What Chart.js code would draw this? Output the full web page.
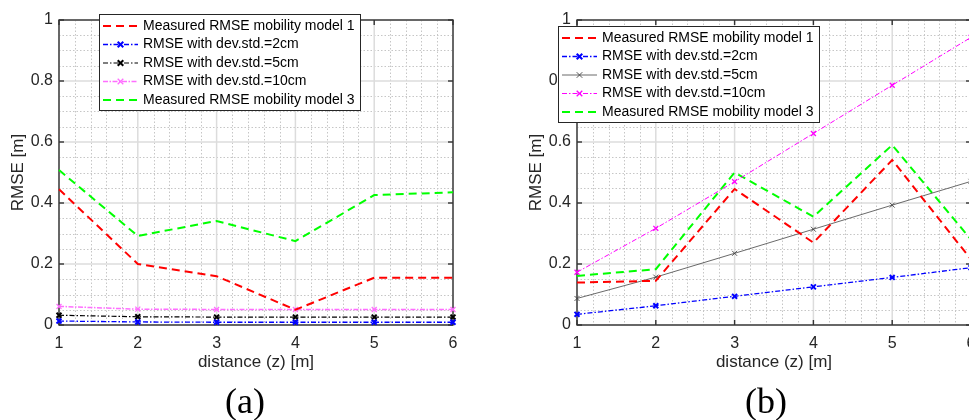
<!DOCTYPE html>
<html>
<head>
<meta charset="utf-8">
<script src="https://cdn.jsdelivr.net/npm/chart.js@4"></script>
<style>
  html, body { margin: 0; padding: 0; background: #fff; }
  #wrap { position: relative; width: 969px; height: 420px; overflow: hidden; }
  canvas { position: absolute; top: 0; }
  #cA { left: 0; }
  #cB { left: 518px; }
  .cap { position: absolute; top: 380px; font: 36px "Liberation Serif", "DejaVu Serif", serif; color: #000; transform: translateX(-50%); }
</style>
</head>
<body>
<div id="wrap">
  <canvas id="cA" width="480" height="420"></canvas>
  <canvas id="cB" width="480" height="420"></canvas>
  <div class="cap" style="left:245px">(a)</div>
  <div class="cap" style="left:766px">(b)</div>
</div>
<script>
// distanza in metri
const distance = [1, 2, 3, 4, 5, 6];

const labels = [
  'Measured RMSE mobility model 1',
  'RMSE with dev.std.=2cm',
  'RMSE with dev.std.=5cm',
  'RMSE with dev.std.=10cm',
  'Measured RMSE mobility model 3'
];

// grafico (a)
const measured1A = [0.445, 0.2, 0.16, 0.05, 0.155, 0.155];
const std2A = [0.013, 0.01, 0.009, 0.009, 0.009, 0.009];
const std5A = [0.032, 0.027, 0.026, 0.026, 0.026, 0.026];
const std10A = [0.061, 0.052, 0.051, 0.051, 0.051, 0.051];
const measured3A = [0.508, 0.292, 0.341, 0.275, 0.426, 0.435];

// grafico (b)
const measured1B = [0.139, 0.145, 0.446, 0.27, 0.541, 0.215];
const std2B = [0.035, 0.063, 0.094, 0.125, 0.156, 0.188];
const std5B = [0.087, 0.157, 0.235, 0.314, 0.393, 0.471];
const std10B = [0.173, 0.317, 0.47, 0.628, 0.786, 0.943];
const measured3B = [0.161, 0.183, 0.5, 0.355, 0.59, 0.28];

const yTicks = [0, 0.2, 0.4, 0.6, 0.8, 1];

Chart.defaults.font.family = '"Liberation Sans", Arial, sans-serif';
Chart.defaults.font.size = 16;
Chart.defaults.color = '#262626';

const pts = (vals) => distance.map((d, i) => ({ x: d, y: vals[i] }));

function line(ctx, x1, y1, x2, y2) {
  ctx.beginPath();
  ctx.moveTo(x1, y1);
  ctx.lineTo(x2, y2);
  ctx.stroke();
}

// griglia stile matlab: minori tratteggiate, maggiori chiare, box e tacche interne
const axesBox = {
  id: 'axesBox',
  beforeDatasetsDraw(chart) {
    const { ctx, chartArea: a, scales: { x, y } } = chart;
    ctx.save();
    ctx.lineWidth = 1;
    ctx.strokeStyle = '#c6c6c6';
    ctx.setLineDash([1.5, 2]);
    for (let i = 1; i < 25; i++) {
      if (i % 5 === 0) continue;
      const px = Math.round(x.getPixelForValue(1 + i * 0.2)) + 0.5;
      line(ctx, px, a.top, px, a.bottom);
    }
    for (let j = 1; j < 20; j++) {
      if (j % 4 === 0) continue;
      const py = Math.round(y.getPixelForValue(j * 0.05)) + 0.5;
      line(ctx, a.left, py, a.right, py);
    }
    ctx.setLineDash([]);
    ctx.strokeStyle = '#dcdcdc';
    ctx.lineWidth = 1.5;
    x.ticks.forEach(t => {
      const px = x.getPixelForValue(t.value);
      line(ctx, px, a.top, px, a.bottom);
    });
    y.ticks.forEach(t => {
      const py = y.getPixelForValue(t.value);
      line(ctx, a.left, py, a.right, py);
    });
    ctx.strokeStyle = '#333333';
    ctx.lineWidth = 1.4;
    ctx.strokeRect(a.left, a.top, a.width, a.height);
    x.ticks.forEach(t => {
      const px = x.getPixelForValue(t.value);
      line(ctx, px, a.bottom, px, a.bottom - 5);
      line(ctx, px, a.top, px, a.top + 5);
    });
    y.ticks.forEach(t => {
      const py = y.getPixelForValue(t.value);
      line(ctx, a.left, py, a.left + 5, py);
      line(ctx, a.right, py, a.right - 5, py);
    });
    ctx.restore();
  }
};

// legenda nel riquadro, disegnata sopra a tutto
const boxLegend = {
  id: 'boxLegend',
  afterDraw(chart, args, opts) {
    const { ctx } = chart;
    ctx.save();
    ctx.fillStyle = '#fff';
    ctx.fillRect(opts.left, opts.top, opts.width, opts.height);
    ctx.strokeStyle = '#262626';
    ctx.lineWidth = 1;
    ctx.strokeRect(opts.left + 0.5, opts.top + 0.5, opts.width, opts.height);
    ctx.font = '14px "Liberation Sans", Arial, sans-serif';
    ctx.textBaseline = 'middle';
    chart.data.datasets.forEach((ds, i) => {
      const cy = opts.top + opts.first + i * opts.step;
      const x0 = opts.left + 4;
      const x1 = x0 + 35;
      ctx.strokeStyle = ds.borderColor;
      ctx.lineWidth = ds.borderWidth;
      ctx.setLineDash(ds.borderDash || []);
      line(ctx, x0, cy, x1, cy);
      ctx.setLineDash([]);
      if (ds.pointRadius) {
        const r = ds.pointRadius * 0.8;
        const mx = (x0 + x1) / 2;
        ctx.lineWidth = ds.pointBorderWidth;
        line(ctx, mx - r, cy - r, mx + r, cy + r);
        line(ctx, mx - r, cy + r, mx + r, cy - r);
      }
      ctx.fillStyle = '#000';
      ctx.fillText(ds.label, x1 + 5, cy);
    });
    ctx.restore();
  }
};

function dashed(label, color, vals) {
  return {
    label, data: pts(vals), borderColor: color, backgroundColor: color,
    borderWidth: 2, borderDash: [8, 5], pointRadius: 0, clip: false
  };
}

function marked(label, color, vals, width, dash, pw) {
  return {
    label, data: pts(vals), borderColor: color, backgroundColor: color,
    borderWidth: width, borderDash: dash, pointStyle: 'crossRot',
    pointRadius: 3.5, pointBorderWidth: pw, pointBorderColor: color, clip: false
  };
}

function makeOptions(legendPos) {
  return {
    responsive: false,
    animation: false,
    layout: { padding: { top: 20, right: 27, left: 0, bottom: 0 } },
    plugins: {
      legend: { display: false },
      tooltip: { enabled: false },
      boxLegend: legendPos
    },
    scales: {
      x: {
        type: 'linear', min: 1, max: 6,
        ticks: { stepSize: 1, padding: 9, color: '#262626' },
        grid: { display: false, drawTicks: false },
        border: { display: false },
        title: { display: true, text: 'distance (z) [m]', color: '#262626', font: { size: 17 }, padding: { top: 0, bottom: 47 } },
        afterFit: s => { s.height = 95; }
      },
      y: {
        type: 'linear', min: 0, max: 1,
        afterBuildTicks: s => { s.ticks = yTicks.map(v => ({ value: v })); },
        ticks: { padding: 6, color: '#262626', callback: v => String(+v.toFixed(1)) },
        grid: { display: false, drawTicks: false },
        border: { display: false },
        title: { display: true, text: 'RMSE [m]', color: '#262626', font: { size: 17 }, padding: { top: 8, bottom: 0 } },
        afterFit: s => { s.width = 59; }
      }
    }
  };
}

const dashDot = [5, 2, 1.5, 2];

new Chart(document.getElementById('cA'), {
  type: 'line',
  data: {
    datasets: [
      dashed(labels[0], '#ff0000', measured1A),
      marked(labels[1], '#0000ff', std2A, 1.3, dashDot, 2),
      marked(labels[2], '#000000', std5A, 1.2, dashDot, 2),
      marked(labels[3], '#ff6eff', std10A, 1.5, [5, 1.5, 1.5, 1.5], 1.3),
      dashed(labels[4], '#00ff00', measured3A)
    ]
  },
  options: makeOptions({ left: 99, top: 14, width: 261, height: 96, first: 12, step: 18.5 }),
  plugins: [axesBox, boxLegend]
});

new Chart(document.getElementById('cB'), {
  type: 'line',
  data: {
    datasets: [
      dashed(labels[0], '#ff0000', measured1B),
      marked(labels[1], '#0000ff', std2B, 1.3, dashDot, 2),
      marked(labels[2], '#444444', std5B, 0.8, [], 0.9),
      marked(labels[3], '#ff00ff', std10B, 1, dashDot, 1.3),
      dashed(labels[4], '#00ff00', measured3B)
    ]
  },
  options: makeOptions({ left: 40, top: 26, width: 261, height: 96, first: 12, step: 18.5 }),
  plugins: [axesBox, boxLegend]
});
</script>
</body>
</html>
